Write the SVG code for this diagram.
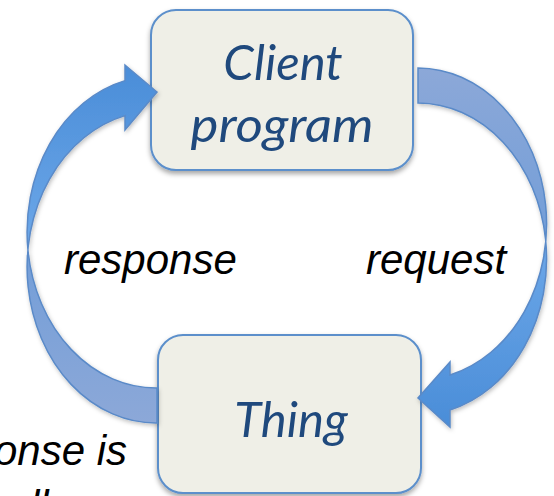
<svg xmlns="http://www.w3.org/2000/svg" width="554" height="496" viewBox="0 0 554 496">
  <defs>
    <filter id="shadow" x="-10%" y="-10%" width="120%" height="130%">
      <feDropShadow dx="0" dy="3" stdDeviation="2.5" flood-color="#000" flood-opacity="0.35"/>
    </filter>
    <filter id="ashadow" x="-10%" y="-10%" width="120%" height="120%">
      <feDropShadow dx="1" dy="2" stdDeviation="2" flood-color="#000" flood-opacity="0.25"/>
    </filter>
    <linearGradient id="gLeft" gradientUnits="userSpaceOnUse" x1="0" y1="65" x2="0" y2="423">
      <stop offset="0" stop-color="#4A8DD8"/>
      <stop offset="0.5" stop-color="#6CA7E8"/>
      <stop offset="0.52" stop-color="#739ED8"/>
      <stop offset="1" stop-color="#8CA8D8"/>
    </linearGradient>
    <linearGradient id="gRight" gradientUnits="userSpaceOnUse" x1="0" y1="68" x2="0" y2="427">
      <stop offset="0" stop-color="#8CA8D8"/>
      <stop offset="0.47" stop-color="#739ED8"/>
      <stop offset="0.49" stop-color="#6CA7E8"/>
      <stop offset="1" stop-color="#4A8DD8"/>
    </linearGradient>
  </defs>
  <style>
    .box { fill: #EFEFE7; stroke: #5B8FCB; stroke-width: 2; filter: url(#shadow); }
    .nodetext { font-family: Lato, "Open Sans", sans-serif; font-style: italic; font-size: 49px; fill: #1F497D; text-anchor: middle; }
    .label { font-family: "Liberation Sans", Arial, sans-serif; font-style: italic; font-size: 42px; fill: #000; }
    .arrow { stroke: #5A8AC8; stroke-width: 1.5; stroke-linejoin: miter; filter: url(#ashadow); }
  </style>
  <rect width="554" height="496" fill="#FFFFFF"/>
  <g id="client">
    <rect class="box" x="151" y="10" width="262" height="160" rx="25" ry="25"/>
    <text class="nodetext" x="283" y="80">Client</text>
    <text class="nodetext" x="282" y="142" textLength="183" lengthAdjust="spacingAndGlyphs">program</text>
  </g>
  <g id="thing">
    <rect class="box" x="158" y="335" width="263" height="158" rx="25" ry="25"/>
    <text class="nodetext" x="291" y="437">Thing</text>
  </g>
  <g id="connectors">
    <path class="arrow" fill="url(#gLeft)" d="M 157 388 A 129 156 0 0 1 125 80.6 L 125 65 L 157 92 L 125 130 L 125 115.6 A 129 156 0 0 0 157 423 Z"/>
    <path class="arrow" fill="url(#gRight)" d="M 418 68 A 129 156 0 0 1 450 375 L 450 362 L 418 398 L 450 427 L 450 410 A 129 156 0 0 0 418 103 Z"/>
  </g>
  <g id="labels">
    <text class="label" x="64" y="274">response</text>
    <text class="label" x="366" y="274">request</text>
    <text class="label" x="-6" y="465" font-size="39">onse is</text>
    <text class="label" x="30" y="520" font-size="39">ll</text>
  </g>
</svg>
